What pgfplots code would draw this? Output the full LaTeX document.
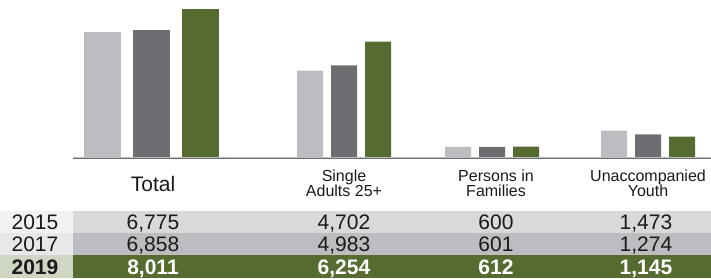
\documentclass[border=0pt]{standalone}
\usepackage{fontspec}
\setmainfont{Liberation Sans}
\usepackage{pgfplots}
\pgfplotsset{compat=1.18}
\usepackage{pgfplotstable}
\definecolor{lg}{HTML}{BCBDC0}
\definecolor{dg}{HTML}{6D6E71}
\definecolor{gr}{HTML}{556B2F}
\definecolor{r1y}{HTML}{F2F2F2}
\definecolor{r1v}{HTML}{D9D9D9}
\definecolor{r2y}{HTML}{E8E8E8}
\definecolor{r2v}{HTML}{BCBDC0}
\definecolor{r3y}{HTML}{CFD6C4}
\definecolor{txt}{HTML}{1A1A1A}

% bar centres (px) and values
\pgfplotstableread{
x15 x17 x19 v15 v17 v19
102.5 151.5 200.5 6775 6858 8011
}\totaltab
\pgfplotstableread{
x15 x17 x19 v15 v17 v19
310 344 378 4702 4983 6254
458 492 526 600 601 612
614 648 682 1473 1274 1145
}\grouptab

\begin{document}
\begin{tikzpicture}[x=1pt,y=1pt]
\useasboundingbox (0,0) rectangle (711,278);
% table backgrounds
\fill[r1y] (0,45) rectangle (73,67);
\fill[r1v] (73,45) rectangle (711,67);
\fill[r2y] (0,23) rectangle (73,45);
\fill[r2v] (73,23) rectangle (711,45);
\fill[r3y] (0,0) rectangle (73,23);
\fill[gr] (73,0) rectangle (711,23);

\begin{axis}[at={(0pt,120pt)}, anchor=south west, scale only axis,
  width=711pt, height=158pt, xmin=0, xmax=711, ymin=0, ymax=8496,
  hide axis, clip=false, ybar, bar shift=0pt]
\addplot[fill=lg, draw=none, bar width=37] table[x=x15,y=v15]{\totaltab};
\addplot[fill=dg, draw=none, bar width=37] table[x=x17,y=v17]{\totaltab};
\addplot[fill=gr, draw=none, bar width=37] table[x=x19,y=v19]{\totaltab};
\addplot[fill=lg, draw=none, bar width=26] table[x=x15,y=v15]{\grouptab};
\addplot[fill=dg, draw=none, bar width=26] table[x=x17,y=v17]{\grouptab};
\addplot[fill=gr, draw=none, bar width=26] table[x=x19,y=v19]{\grouptab};
\end{axis}
\draw[line width=1pt, color=lg] (73,120.5) -- (711,120.5);
\draw[line width=1pt, color=dg] (73,119.5) -- (711,119.5);

% headers
\begin{scope}[every node/.style={text=txt, inner sep=0pt, anchor=base}]
\node[font=\fontsize{21}{21}\selectfont] at (153,86.3) {Total};
\node[font=\fontsize{16}{16}\selectfont] at (344,96) {Single};
\node[font=\fontsize{16}{16}\selectfont] at (344,81) {Adults 25+};
\node[font=\fontsize{16}{16}\selectfont] at (496,96) {Persons in};
\node[font=\fontsize{16}{16}\selectfont] at (496,81) {Families};
\node[font=\fontsize{16}{16}\selectfont] at (648,96) {Unaccompanied};
\node[font=\fontsize{16}{16}\selectfont] at (648,81) {Youth};
% table text
\node[font=\fontsize{21}{21}\selectfont] at (35,48.7) {2015};
\node[font=\fontsize{21}{21}\selectfont] at (35,26.3) {2017};
\node[font=\fontsize{21}{21}\selectfont\bfseries] at (35,4) {2019};
\node[font=\fontsize{21}{21}\selectfont] at (153,48.7) {6,775};
\node[font=\fontsize{21}{21}\selectfont] at (344,48.7) {4,702};
\node[font=\fontsize{21}{21}\selectfont] at (496,48.7) {600};
\node[font=\fontsize{21}{21}\selectfont] at (646,48.7) {1,473};
\node[font=\fontsize{21}{21}\selectfont] at (153,26.3) {6,858};
\node[font=\fontsize{21}{21}\selectfont] at (344,26.3) {4,983};
\node[font=\fontsize{21}{21}\selectfont] at (496,26.3) {601};
\node[font=\fontsize{21}{21}\selectfont] at (646,26.3) {1,274};
\end{scope}
\begin{scope}[every node/.style={text=white, inner sep=0pt, anchor=base, font=\fontsize{21}{21}\selectfont\bfseries}]
\node at (153,4) {8,011};
\node at (344,4) {6,254};
\node at (496,4) {612};
\node at (646,4) {1,145};
\end{scope}
\end{tikzpicture}
\end{document}
